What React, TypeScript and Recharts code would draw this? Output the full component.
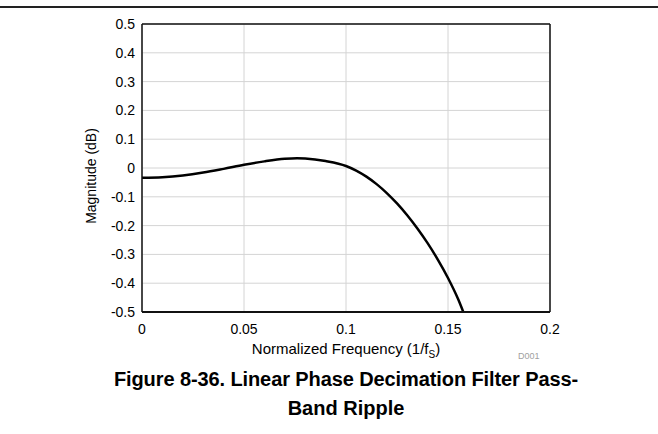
import React from "react";
import { LineChart, Line, XAxis, YAxis, CartesianGrid, ReferenceLine } from "recharts";

const frequency = [0, 0.01, 0.02, 0.03, 0.04, 0.05, 0.06, 0.07, 0.076, 0.08, 0.09, 0.1, 0.105, 0.11, 0.115, 0.12, 0.125, 0.13, 0.135, 0.14, 0.145, 0.15, 0.155, 0.1575];
const magnitude = [-0.034, -0.032, -0.026, -0.016, -0.003, 0.011, 0.023, 0.032, 0.034, 0.033, 0.024, 0.007, -0.009, -0.03, -0.056, -0.087, -0.123, -0.164, -0.21, -0.261, -0.318, -0.382, -0.456, -0.5];
const xTicks = [0, 0.05, 0.1, 0.15, 0.2];
const yTicks = [-0.5, -0.4, -0.3, -0.2, -0.1, 0, 0.1, 0.2, 0.3, 0.4, 0.5];
const xTitle = "Normalized Frequency (1/f";
const xTitleSub = "S";
const yTitle = "Magnitude (dB)";
const figureTitle1 = "Figure 8-36. Linear Phase Decimation Filter Pass-";
const figureTitle2 = "Band Ripple";
const figureCode = "D001";

const data = frequency.map((f, i) => ({ f, m: magnitude[i] }));

const FONT = "Arial, 'Liberation Sans', sans-serif";
const tickStyle = { fontSize: 14, fill: "#000", fontFamily: FONT };

export default function App() {
  return (
    <div style={{ position: "absolute", left: 0, top: 0, width: 658, height: 434, background: "#fff", fontFamily: FONT }}>
      <div style={{ position: "absolute", left: 0, top: 6, width: 658, height: 2, background: "#222" }} />
      <LineChart width={658} height={434} data={data} margin={{ top: 24, right: 108, bottom: 92, left: 0 }}>
        <CartesianGrid xAxisId="bottom" yAxisId="left" stroke="#d4d4d4" strokeWidth={1} />
        <XAxis
          xAxisId="bottom"
          dataKey="f"
          type="number"
          domain={[0, 0.2]}
          ticks={xTicks}
          height={30}
          tickLine={false}
          tickSize={0}
          tickMargin={12}
          tick={tickStyle}
          axisLine={{ stroke: "#111", strokeWidth: 2 }}
          tickFormatter={(v) => String(v)}
        />
        <YAxis
          yAxisId="left"
          type="number"
          domain={[-0.5, 0.5]}
          ticks={yTicks}
          width={142}
          tickLine={false}
          tickSize={0}
          tickMargin={7}
          tick={tickStyle}
          axisLine={{ stroke: "#111", strokeWidth: 1.5 }}
          tickFormatter={(v) => String(v)}
        />
        <ReferenceLine xAxisId="bottom" yAxisId="left" y={0.5} stroke="#111" strokeWidth={1.5} />
        <ReferenceLine xAxisId="bottom" yAxisId="left" x={0.2} stroke="#111" strokeWidth={1.5} />
        <Line
          xAxisId="bottom"
          yAxisId="left"
          type="monotone"
          dataKey="m"
          stroke="#000"
          strokeWidth={2.5}
          dot={false}
          isAnimationActive={false}
        />
      </LineChart>
      <div style={{ position: "absolute", left: 91, top: 176, transform: "translate(-50%, -50%) rotate(-90deg)", fontSize: 14, whiteSpace: "nowrap", color: "#000" }}>
        {yTitle}
      </div>
      <div style={{ position: "absolute", left: 146, width: 400, top: 341, textAlign: "center", fontSize: 15, lineHeight: "15px", whiteSpace: "nowrap", color: "#000" }}>
        {xTitle}
        <sub style={{ fontSize: 10, lineHeight: "10px" }}>{xTitleSub}</sub>)
      </div>
      <div style={{ position: "absolute", left: 518, top: 351, fontSize: 9, color: "#a0a0a0" }}>{figureCode}</div>
      <div style={{ position: "absolute", left: 0, width: 692, top: 365, textAlign: "center", fontSize: 20, fontWeight: "bold", lineHeight: "29px", color: "#000" }}>
        <div style={{ letterSpacing: -0.1 }}>{figureTitle1}</div>
        <div>{figureTitle2}</div>
      </div>
    </div>
  );
}
